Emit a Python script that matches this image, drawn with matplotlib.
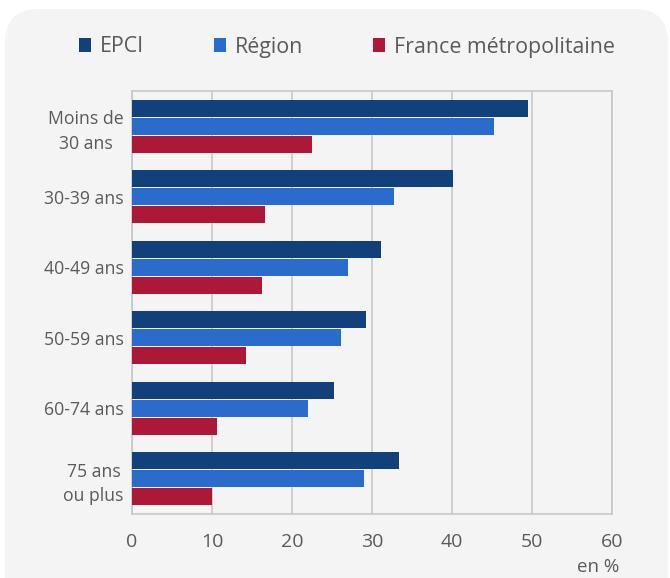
import numpy as np
import matplotlib.pyplot as plt
from matplotlib.patches import FancyBboxPatch

plt.rcParams['font.family'] = ['Open Sans', 'DejaVu Sans']

categories = ["Moins de\n30 ans", "30-39 ans", "40-49 ans", "50-59 ans", "60-74 ans", "75 ans\nou plus"]
epci = [49.5, 40.1, 31.1, 29.2, 25.2, 33.4]
region = [45.2, 32.7, 27.0, 26.1, 22.0, 29.0]
france = [22.5, 16.6, 16.2, 14.2, 10.6, 10.0]
series_names = ["EPCI", "Région", "France métropolitaine"]
colors = ["#11407a", "#2a6bcc", "#ad1838"]
text_color = "#5a5a5a"

W, H = 670, 578
fig = plt.figure(figsize=(W / 100, H / 100), dpi=100)
fig.patch.set_facecolor("white")

# rounded grey card behind everything
card = FancyBboxPatch((5 / W, -30 / H), (663 / W), (H - 9 + 30) / H,
                      boxstyle="round,pad=0,rounding_size=0.05",
                      transform=fig.transFigure, facecolor="#f4f4f4",
                      edgecolor="none", zorder=-5, mutation_aspect=W / H)
fig.patches.append(card)

ax = fig.add_axes([132 / W, 1 - 514 / H, 480 / W, 423 / H])
ax.set_facecolor("none")

y = np.arange(len(categories))
h = 0.237
step = 0.255
bars = []
for i, (vals, name, c) in enumerate(zip([epci, region, france], series_names, colors)):
    b = ax.barh(y + (i - 1) * step, vals, height=h, color=c, label=name, zorder=3)
    bars.append(b)

ax.set_xlim(0, 60)
ax.set_ylim(len(categories) - 0.5, -0.5)
ax.set_xticks(range(0, 61, 10))
ax.set_yticks(y)
ax.set_yticklabels(categories, multialignment="center", linespacing=1.45)
ax.tick_params(axis="both", length=0, colors=text_color, labelsize=12.7)
ax.tick_params(axis="x", pad=14, labelsize=14)
ax.tick_params(axis="y", pad=6)
ax.grid(axis="x", color="#c8c8c8", linewidth=1.2, zorder=0)
for s in ax.spines.values():
    s.set_color("#c8c8c8")
    s.set_linewidth(1.2)

fig.text(598 / W, 1 - 567 / H, "en %", ha="center", va="center", color=text_color, fontsize=13.5)

fig.legend(handles=bars, labels=series_names, loc="center left",
           bbox_to_anchor=(60 / W, 1 - 47 / H), ncol=3, frameon=False,
           fontsize=15.4, handlelength=0.55, handleheight=0.65, handletextpad=0.4,
           columnspacing=3.3, labelcolor=text_color)

fig.savefig("out.png", dpi=100, facecolor="white")
